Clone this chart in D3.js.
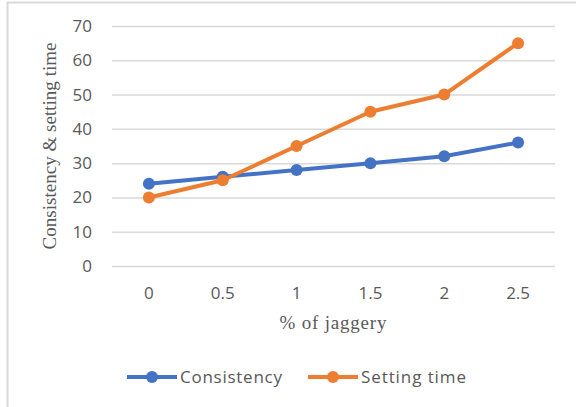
<!DOCTYPE html>
<html>
<head>
<meta charset="utf-8">
<script src="https://cdn.jsdelivr.net/npm/d3@7"></script>
<style>
  html, body { margin: 0; padding: 0; background: #fff; }
  svg { display: block; }
</style>
</head>
<body>
<svg id="chart" width="576" height="407"></svg>
<script>
// Data
const categories = ["0", "0.5", "1", "1.5", "2", "2.5"];
const consistency = [24, 26, 28, 30, 32, 36];
const settingTime = [20, 25, 35, 45, 50, 65];
const yTicks = [0, 10, 20, 30, 40, 50, 60, 70];

const seriesList = [
  { name: "Consistency", values: consistency, color: "#4472C4", textWidth: 102 },
  { name: "Setting time", values: settingTime, color: "#ED7D31", textWidth: 105 }
];

const svg = d3.select("#chart");
const W = 576, H = 407;
const plot = { left: 112, right: 555, top: 26, bottom: 266 };
const sans = "'Open Sans', 'Liberation Sans', sans-serif";
const serif = "'Liberation Serif', 'Times New Roman', serif";

// Frame (left and top edges)
svg.append("line").attr("x1", 7.5).attr("x2", 7.5).attr("y1", 2).attr("y2", H)
  .attr("stroke", "#d9d9d9").attr("stroke-width", 2);
svg.append("line").attr("x1", 7).attr("x2", W).attr("y1", 2.5).attr("y2", 2.5)
  .attr("stroke", "#d9d9d9").attr("stroke-width", 2);

const x = d3.scaleBand().domain(categories).range([plot.left, plot.right]);
const y = d3.scaleLinear().domain([0, 70]).range([plot.bottom, plot.top]);

// Horizontal gridlines + y labels
const yAxis = d3.axisLeft(y).tickValues(yTicks).tickSize(-(plot.right - plot.left)).tickPadding(20);
const gy = svg.append("g").attr("transform", `translate(${plot.left},0)`).call(yAxis);
gy.select(".domain").remove();
gy.selectAll(".tick line").attr("stroke", "#d9d9d9").attr("stroke-width", 1.5);
gy.selectAll(".tick text").attr("fill", "#595959")
  .style("font-family", sans).style("font-size", "17px");

// X labels
const xAxis = d3.axisBottom(x).tickSize(0).tickPadding(21);
const gx = svg.append("g").attr("transform", `translate(0,${plot.bottom})`).call(xAxis);
gx.select(".domain").remove();
gx.selectAll(".tick text").attr("fill", "#595959")
  .style("font-family", sans).style("font-size", "17px");

// Axis titles
svg.append("text")
  .attr("transform", `translate(56,146) rotate(-90)`)
  .attr("text-anchor", "middle")
  .attr("fill", "#595959")
  .style("font-family", serif)
  .style("font-size", "19px")
  .attr("textLength", 207)
  .text("Consistency & setting time");

svg.append("text")
  .attr("x", 333).attr("y", 329)
  .attr("text-anchor", "middle")
  .attr("fill", "#595959")
  .style("font-family", serif)
  .style("font-size", "19px")
  .attr("textLength", 107)
  .text("% of jaggery");

// Lines and markers
const cx = c => x(c) + x.bandwidth() / 2;
const line = d3.line().x((d, i) => cx(categories[i])).y(d => y(d));

seriesList.forEach(s => {
  svg.append("path").datum(s.values)
    .attr("d", line).attr("fill", "none")
    .attr("stroke", s.color).attr("stroke-width", 4).attr("stroke-linejoin", "round");
  svg.selectAll(null).data(s.values).enter().append("circle")
    .attr("cx", (d, i) => cx(categories[i])).attr("cy", d => y(d))
    .attr("r", 6).attr("fill", s.color);
});

// Legend
const legendItems = [
  { x: 127, s: seriesList[0] },
  { x: 308, s: seriesList[1] }
];
legendItems.forEach(({ x: lx, s }) => {
  const g = svg.append("g").attr("transform", `translate(${lx},377)`);
  g.append("line").attr("x1", 0).attr("x2", 50).attr("y1", 0).attr("y2", 0)
    .attr("stroke", s.color).attr("stroke-width", 4);
  g.append("circle").attr("cx", 25).attr("cy", 0).attr("r", 6).attr("fill", s.color);
  g.append("text").attr("x", 53).attr("y", 6)
    .attr("fill", "#595959")
    .style("font-family", sans).style("font-size", "17px")
    .attr("textLength", s.textWidth)
    .text(s.name);
});
</script>
</body>
</html>
